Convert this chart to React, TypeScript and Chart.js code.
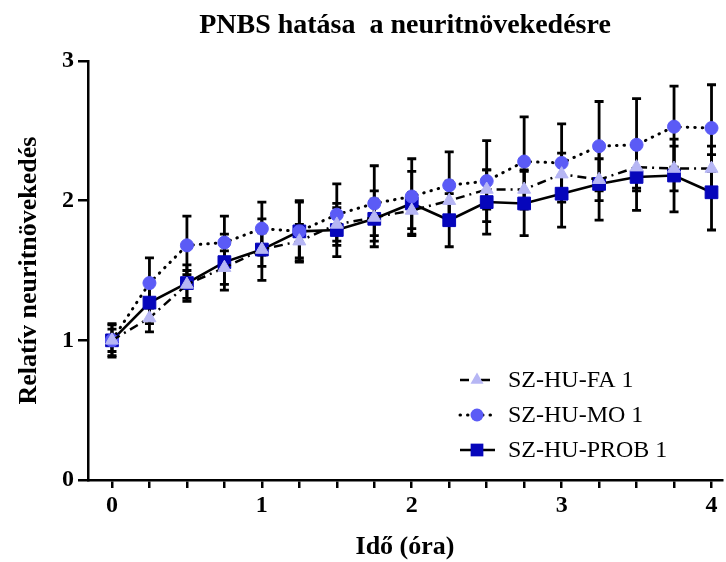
import React, { useEffect, useRef } from "react";
import { Chart, registerables } from "chart.js";

Chart.register(...registerables);

const titleText = "PNBS hatása  a neuritnövekedésre";
const xTitle = "Idő (óra)";
const yTitle = "Relatív neuritnövekedés";

const xValues = [0, 0.25, 0.5, 0.75, 1, 1.25, 1.5, 1.75, 2, 2.25, 2.5, 2.75, 3, 3.25, 3.5, 3.75, 4];
const xTicks = [0, 0.25, 0.5, 0.75, 1, 1.25, 1.5, 1.75, 2, 2.25, 2.5, 2.75, 3, 3.25, 3.5, 3.75, 4];
const yTicks = [0, 1, 2, 3];

const seriesNames = ["SZ-HU-FA 1", "SZ-HU-MO 1", "SZ-HU-PROB 1"];

const faValues = [1.0, 1.16, 1.4, 1.52, 1.65, 1.71, 1.83, 1.88, 1.93, 2.0, 2.08, 2.08, 2.19, 2.15, 2.24, 2.23, 2.23];
const faErrors = [0.08, 0.1, 0.1, 0.12, 0.12, 0.12, 0.12, 0.13, 0.13, 0.14, 0.14, 0.14, 0.15, 0.15, 0.15, 0.16, 0.16];

const moValues = [1.0, 1.41, 1.68, 1.7, 1.8, 1.78, 1.9, 1.98, 2.03, 2.11, 2.14, 2.28, 2.27, 2.39, 2.4, 2.53, 2.52];
const moErrors = [0.12, 0.18, 0.21, 0.19, 0.19, 0.22, 0.22, 0.27, 0.27, 0.24, 0.29, 0.32, 0.28, 0.32, 0.33, 0.29, 0.31];

const probValues = [1.0, 1.27, 1.41, 1.56, 1.65, 1.78, 1.79, 1.87, 1.98, 1.86, 1.99, 1.98, 2.05, 2.12, 2.17, 2.18, 2.06];
const probErrors = [0.11, 0.15, 0.13, 0.2, 0.22, 0.21, 0.19, 0.2, 0.23, 0.19, 0.23, 0.23, 0.24, 0.26, 0.24, 0.26, 0.27];

const FONT = "'Liberation Serif', 'Times New Roman', serif";
const FA_COLOR = "#b6b6f4";
const MO_COLOR = "#5b5bf6";
const PROB_COLOR = "#0606bb";

const errorBarPlugin = {
  id: "errorBars",
  beforeDatasetsDraw(chart: any) {
    const { ctx } = chart;
    const xs = chart.scales.x;
    const ys = chart.scales.y;
    ctx.save();
    ctx.strokeStyle = "#000";
    ctx.lineWidth = 2.8;
    ctx.setLineDash([]);
    chart.data.datasets.forEach((ds: any) => {
      const errs: number[] = ds.errors || [];
      ds.data.forEach((p: any, i: number) => {
        const e = errs[i] || 0;
        const px = xs.getPixelForValue(p.x);
        const top = ys.getPixelForValue(p.y + e);
        const bot = ys.getPixelForValue(p.y - e);
        ctx.beginPath();
        ctx.moveTo(px, top);
        ctx.lineTo(px, bot);
        ctx.moveTo(px - 4.5, top);
        ctx.lineTo(px + 4.5, top);
        ctx.moveTo(px - 4.5, bot);
        ctx.lineTo(px + 4.5, bot);
        ctx.stroke();
      });
    });
    ctx.restore();
  },
};

function drawMarker(ctx: CanvasRenderingContext2D, style: string, x: number, y: number, r: number, color: string) {
  ctx.fillStyle = color;
  ctx.beginPath();
  if (style === "circle") {
    ctx.arc(x, y, r, 0, Math.PI * 2);
  } else if (style === "rect") {
    const s = r * Math.SQRT1_2;
    ctx.rect(x - s, y - s, 2 * s, 2 * s);
  } else {
    const a = (2 * Math.PI) / 3;
    ctx.moveTo(x, y - r);
    ctx.lineTo(x + Math.sin(a) * r, y - Math.cos(a) * r);
    ctx.lineTo(x - Math.sin(a) * r, y - Math.cos(a) * r);
    ctx.closePath();
  }
  ctx.fill();
}

const overlayPlugin = {
  id: "overlay",
  afterDraw(chart: any) {
    const { ctx, chartArea } = chart;
    ctx.save();
    // title
    ctx.fillStyle = "#000";
    ctx.font = `bold 28px ${FONT}`;
    ctx.textAlign = "center";
    ctx.textBaseline = "alphabetic";
    ctx.fillText(titleText, (chartArea.left + chartArea.right) / 2, 33);
    // legend
    const lx = chartArea.right - 262;
    const rowY0 = chartArea.bottom - 100;
    chart.data.datasets.forEach((ds: any, i: number) => {
      const y = rowY0 + i * 35;
      ctx.strokeStyle = "#000";
      ctx.lineWidth = ds.borderWidth;
      ctx.lineCap = ds.borderCapStyle || "butt";
      ctx.setLineDash(ds.borderDash || []);
      ctx.beginPath();
      ctx.moveTo(lx, y);
      ctx.lineTo(lx + 35, y);
      ctx.stroke();
      ctx.setLineDash([]);
      drawMarker(ctx, ds.pointStyle, lx + 17, y, ds.pointRadius, ds.pointBackgroundColor);
      ctx.fillStyle = "#000";
      ctx.font = `24px ${FONT}`;
      ctx.textAlign = "left";
      ctx.textBaseline = "middle";
      ctx.fillText(ds.label, lx + 48, y + 1);
    });
    ctx.restore();
  },
};

export default function App() {
  const ref = useRef<HTMLCanvasElement | null>(null);

  useEffect(() => {
    document.body.style.margin = "0";
    const canvas = ref.current;
    if (!canvas) return;
    const mk = (vals: number[]) => xValues.map((x, i) => ({ x, y: vals[i] }));
    const chart = new Chart(canvas, {
      type: "line",
      data: {
        datasets: [
          {
            label: seriesNames[0],
            data: mk(faValues),
            errors: faErrors,
            borderColor: "#000",
            borderWidth: 2.5,
            borderDash: [9, 5, 2, 5],
            borderCapStyle: "butt",
            pointStyle: "triangle",
            pointRadius: 7.5,
            pointBackgroundColor: FA_COLOR,
            pointBorderColor: FA_COLOR,
            pointBorderWidth: 1,
            tension: 0,
            fill: false,
          } as any,
          {
            label: seriesNames[1],
            data: mk(moValues),
            errors: moErrors,
            borderColor: "#000",
            borderWidth: 3,
            borderDash: [0.5, 7],
            borderCapStyle: "round",
            pointStyle: "circle",
            pointRadius: 6.5,
            pointBackgroundColor: MO_COLOR,
            pointBorderColor: MO_COLOR,
            pointBorderWidth: 1,
            tension: 0,
            fill: false,
          } as any,
          {
            label: seriesNames[2],
            data: mk(probValues),
            errors: probErrors,
            borderColor: "#000",
            borderWidth: 2.6,
            borderDash: [],
            borderCapStyle: "butt",
            pointStyle: "rect",
            pointRadius: 9,
            pointBackgroundColor: PROB_COLOR,
            pointBorderColor: PROB_COLOR,
            pointBorderWidth: 1,
            tension: 0,
            fill: false,
          } as any,
        ],
      },
      options: {
        responsive: false,
        animation: false,
        layout: { autoPadding: false, padding: { top: 61, right: 4, left: 0, bottom: 0 } },
        plugins: {
          legend: { display: false },
          title: { display: false },
          tooltip: { enabled: false },
        },
        scales: {
          x: {
            type: "linear",
            min: -0.16,
            max: 4.07,
            afterBuildTicks: (scale: any) => {
              scale.ticks = xTicks.map((v) => ({ value: v }));
            },
            afterFit: (scale: any) => {
              scale.height = 82;
            },
            ticks: {
              autoSkip: false,
              maxRotation: 0,
              padding: 3,
              color: "#000",
              font: { family: FONT, size: 24, weight: "bold" },
              callback: (v: any) => (Number.isInteger(Number(v)) ? String(v) : ""),
            },
            grid: {
              drawOnChartArea: false,
              drawTicks: true,
              tickLength: 8,
              color: "#000",
              lineWidth: 2.5,
            },
            border: { display: true, color: "#000", width: 2.5 },
            title: {
              display: true,
              text: xTitle,
              color: "#000",
              font: { family: FONT, size: 26, weight: "bold" },
              padding: { top: 0, bottom: -1 },
            },
          },
          y: {
            type: "linear",
            min: 0,
            max: 3,
            afterBuildTicks: (scale: any) => {
              scale.ticks = yTicks.map((v) => ({ value: v }));
            },
            afterFit: (scale: any) => {
              scale.width = 88;
            },
            ticks: {
              padding: 4,
              color: "#000",
              font: { family: FONT, size: 24, weight: "bold" },
            },
            grid: {
              drawOnChartArea: false,
              drawTicks: true,
              tickLength: 10,
              color: "#000",
              lineWidth: 2.5,
            },
            border: { display: true, color: "#000", width: 2.5 },
            title: {
              display: true,
              text: yTitle,
              color: "#000",
              font: { family: FONT, size: 26, weight: "bold" },
              padding: { top: 14, bottom: 0 },
            },
          },
        },
      } as any,
      plugins: [errorBarPlugin, overlayPlugin],
    });
    return () => chart.destroy();
  }, []);

  return (
    <div style={{ width: 726, height: 562 }}>
      <canvas ref={ref} width={726} height={562} style={{ display: "block" }} />
    </div>
  );
}
